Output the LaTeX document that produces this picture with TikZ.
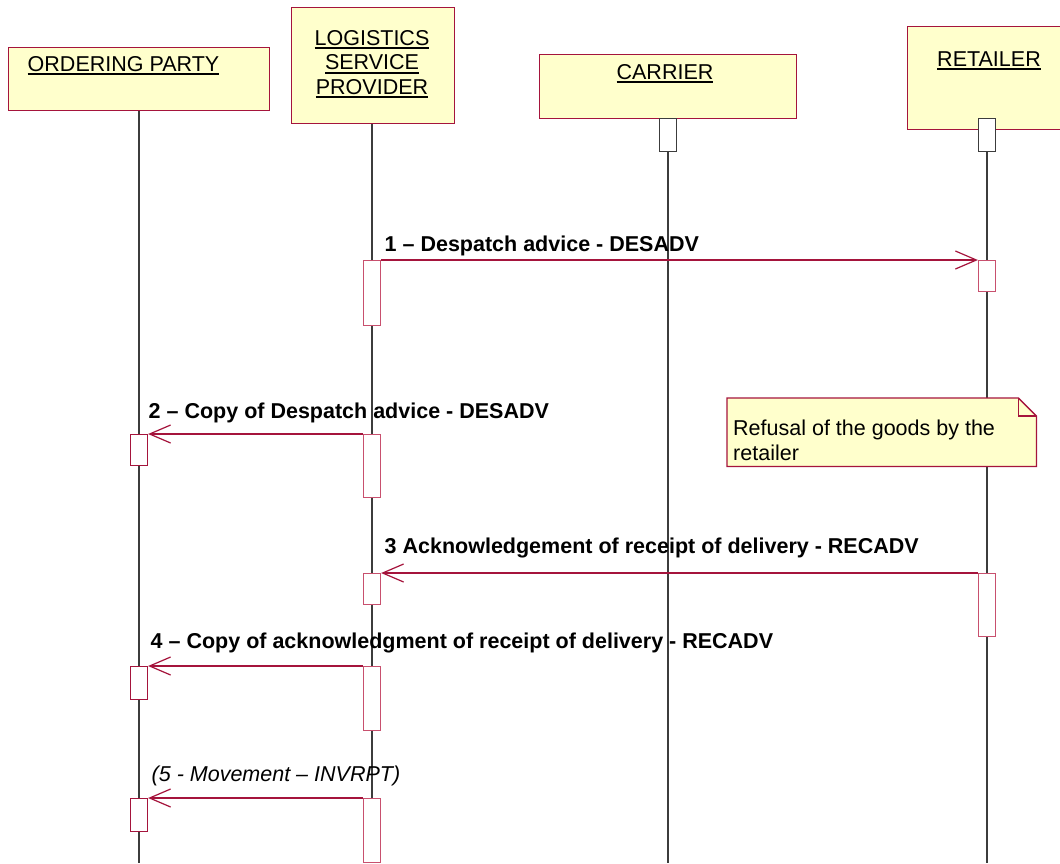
\documentclass[tikz,border=0pt]{standalone}
\usepackage{fontspec}
\setmainfont{Liberation Sans}
\usepackage{tikz}
\usetikzlibrary{positioning, arrows.meta, calc, backgrounds}
\definecolor{umlred}{RGB}{165,20,60}
\definecolor{umlpink}{RGB}{200,80,110}
\definecolor{noteyellow}{RGB}{255,255,204}
\definecolor{lifegray}{RGB}{60,60,60}
\newcommand{\ulhead}[1]{\setbox0\hbox{#1}\rlap{\rule[-4pt]{\wd0}{1.8pt}}\box0}

\begin{document}
\begin{tikzpicture}[x=1pt, y=-1pt,
  actor/.style={rectangle, draw=umlred, fill=noteyellow, line width=1.3pt,
                inner sep=0pt, anchor=north west},
  head/.style={font=\fontsize{21.5}{24.5}\selectfont, align=center,
               inner sep=0pt, anchor=base},
  act/.style={rectangle, draw=umlpink, fill=white, line width=1.2pt,
              minimum width=17pt, inner sep=0pt, anchor=north},
  actred/.style={act, draw=umlred},
  actgray/.style={act, draw=lifegray},
  life/.style={draw=lifegray, line width=1.1pt},
  msg/.style={-{Straight Barb[length=21pt, width=18pt]}, draw=umlred, line width=1.2pt},
  lbl/.style={font=\fontsize{21.5}{25.5}\selectfont\bfseries, inner sep=0pt, anchor=base west},
  note/.style={draw=umlred, fill=noteyellow, line width=1.3pt},
  notetext/.style={font=\fontsize{21.5}{25}\selectfont, align=left,
                   inner sep=0pt, anchor=base west}
]

\useasboundingbox (0,0) rectangle (1060,863);
\coordinate (bottom) at (0,863);

% actors
\node[actor, minimum width=261pt, minimum height=63pt]  (op)  at (8,47)   {};
\node[actor, minimum width=163pt, minimum height=116pt] (lsp) at (291,7)  {};
\node[actor, minimum width=257pt, minimum height=64pt]  (car) at (539,54) {};
\node[actor, minimum width=159pt, minimum height=103pt] (ret) at (907,26) {};

\node[head] (op-t)  at (123.5,71) {\ulhead{ORDERING PARTY}};
\node[head] (lsp-t) at (372,94)   {\ulhead{LOGISTICS}\\\ulhead{SERVICE}\\\ulhead{PROVIDER}};
\node[head] (car-t) at (665,79)   {\ulhead{CARRIER}};
\node[head] (ret-t) at (989,66)   {\ulhead{RETAILER}};

% activations
\node[actgray, minimum height=33pt] (car0) at (668,118) {};
\node[actgray, minimum height=33pt] (ret0) at (987,118) {};

\node[act, minimum height=65pt]    (lsp1) at (372,260) {};
\node[act, minimum height=31pt]    (ret1) at (987,260) {};
\node[act, minimum height=63pt]    (lsp2) at (372,434) {};
\node[actred, minimum height=31pt] (op2)  at (139,434) {};
\node[act, minimum height=63pt]    (ret3) at (987,573) {};
\node[act, minimum height=31pt]    (lsp3) at (372,573) {};
\node[act, minimum height=64pt]    (lsp4) at (372,666) {};
\node[actred, minimum height=33pt] (op4)  at (139,666) {};
\node[act, minimum height=64pt]    (lsp5) at (372,798) {};
\node[actred, minimum height=33pt] (op5)  at (139,798) {};

% lifelines
\begin{scope}[on background layer]
\draw[life] (op2 |- op.south)   -- (op2 |- bottom);
\draw[life] (lsp1 |- lsp.south) -- (lsp1 |- bottom);
\draw[life] (car0.south)        -- (car0 |- bottom);
\draw[life] (ret0.south)        -- (ret0 |- bottom);
\end{scope}

% note
\node[inner sep=0pt, minimum width=309pt, minimum height=68pt, anchor=north west] (refusal) at (727,398) {};
\draw[note] (refusal.south west) -- (refusal.north west) -- ([xshift=-18pt]refusal.north east)
  -- ([yshift=-18pt]refusal.north east) -- (refusal.south east) -- cycle;
\draw[note, fill=none] ([xshift=-18pt]refusal.north east) |- ([yshift=-18pt]refusal.north east);
\node[notetext] (refusal-t) at (733,460) {Refusal of the goods by the\\retailer};

% messages
\draw[msg] (lsp1.north east) -- node[lbl, pos=0, xshift=3pt, yshift=9pt]
  {1 – Despatch advice - DESADV} (ret1.north west);
\draw[msg] (lsp2.north west) -- node[lbl, pos=1, yshift=16pt]
  {2 – Copy of Despatch advice - DESADV} (op2.north east);
\draw[msg] (ret3.north west) -- node[lbl, pos=1, xshift=3pt, yshift=20pt]
  {3 Acknowledgement of receipt of delivery - RECADV} (lsp3.north east);
\draw[msg] (lsp4.north west) -- node[lbl, pos=1, xshift=2pt, yshift=18pt]
  {4 – Copy of acknowledgment of receipt of delivery - RECADV} (op4.north east);
\draw[msg] (lsp5.north west) -- node[lbl, pos=1, xshift=3pt, yshift=17pt, font=\fontsize{21.5}{25.5}\selectfont\itshape]
  {(5 - Movement – INVRPT)} (op5.north east);

\end{tikzpicture}
\end{document}
